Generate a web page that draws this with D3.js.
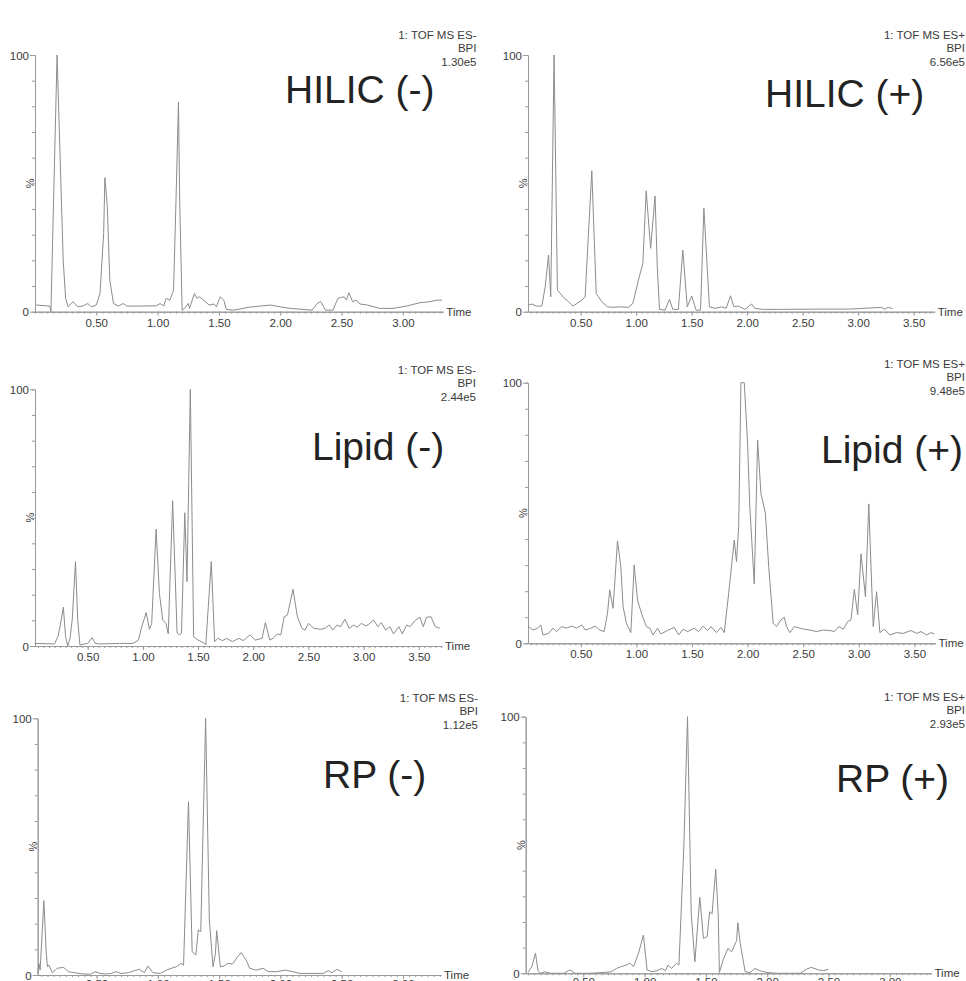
<!DOCTYPE html>
<html>
<head>
<meta charset="utf-8">
<script src="https://cdn.jsdelivr.net/npm/d3@7"></script>
<style>
html, body { margin: 0; padding: 0; background: #fff; }
svg { display: block; font-family: "Liberation Sans", Arial, sans-serif; }
</style>
</head>
<body>
<svg id="chart" width="966" height="981"></svg>
<script>

// retention time (min) and base peak intensity (%)

const hilicNegTime = [0.01, 0.12, 0.13, 0.18, 0.23, 0.25, 0.27, 0.31, 0.35, 0.39, 0.43, 0.46, 0.50, 0.53, 0.56, 0.57, 0.59, 0.61, 0.64, 0.68, 0.72, 0.75, 0.86, 0.99, 1.02, 1.05, 1.07, 1.10, 1.13, 1.15, 1.17, 1.18, 1.20, 1.22, 1.25, 1.26, 1.30, 1.32, 1.34, 1.39, 1.42, 1.46, 1.48, 1.51, 1.54, 1.56, 1.62, 1.74, 1.86, 1.92, 2.00, 2.08, 2.26, 2.30, 2.33, 2.37, 2.43, 2.47, 2.52, 2.54, 2.56, 2.59, 2.62, 2.65, 2.71, 2.81, 2.92, 3.03, 3.14, 3.22, 3.28, 3.32];
const hilicNegValue = [2.6, 2.2, 0, 100, 20, 5.2, 1.9, 3.9, 1.9, 2.2, 3.2, 1.9, 2.6, 7.1, 30.5, 52.2, 41, 12.3, 3.2, 2.2, 3.2, 2.2, 2.2, 2.3, 3.2, 2.2, 5.2, 4.5, 8.4, 43.5, 81.6, 43.5, 0.6, 1.3, 3.2, 1.3, 7.1, 5.2, 5.8, 3.9, 2.6, 3.0, 1.9, 5.8, 4.5, 0.9, 0.6, 1.7, 2.3, 2.6, 1.9, 1.3, 0.6, 3.2, 3.9, 0.6, 0.6, 5.2, 5.8, 4.5, 7.4, 3.9, 4.5, 3.0, 2.6, 1.3, 1.3, 2.2, 3.5, 3.9, 4.5, 4.5];

const hilicPosTime = [0.03, 0.06, 0.10, 0.15, 0.18, 0.21, 0.23, 0.26, 0.29, 0.32, 0.34, 0.39, 0.43, 0.46, 0.51, 0.54, 0.57, 0.60, 0.62, 0.64, 0.69, 0.74, 0.79, 0.85, 0.93, 0.97, 1.02, 1.06, 1.09, 1.13, 1.17, 1.19, 1.21, 1.26, 1.30, 1.33, 1.38, 1.42, 1.46, 1.50, 1.54, 1.58, 1.61, 1.66, 1.71, 1.77, 1.81, 1.85, 1.88, 1.92, 1.98, 2.04, 2.07, 2.14, 2.32, 2.62, 2.92, 3.21, 3.24, 3.27, 3.31];
const hilicPosValue = [2.6, 3.0, 2.2, 2.2, 9.7, 22.1, 5.8, 100, 8.4, 6.9, 5.8, 3.9, 2.2, 3.0, 4.5, 5.8, 30.5, 54.9, 30.5, 7.1, 3.9, 1.9, 1.7, 1.9, 1.7, 3.2, 12.3, 18.8, 47.1, 24.7, 45.1, 17.5, 0.9, 0.6, 4.8, 0.9, 0.9, 24, 1.9, 6.1, 0.6, 0.6, 40.3, 1.9, 1.3, 1.9, 1.3, 6.2, 1.9, 2.2, 0.9, 3.0, 1.3, 0.9, 0.9, 1.0, 1.0, 1.7, 1.0, 1.7, 1.2];

const lipidNegTime = [0.02, 0.20, 0.23, 0.25, 0.28, 0.30, 0.32, 0.34, 0.36, 0.39, 0.41, 0.43, 0.50, 0.54, 0.57, 0.61, 0.79, 0.91, 0.96, 0.99, 1.03, 1.06, 1.08, 1.12, 1.15, 1.18, 1.21, 1.23, 1.27, 1.31, 1.33, 1.35, 1.38, 1.40, 1.43, 1.46, 1.50, 1.55, 1.57, 1.62, 1.65, 1.68, 1.72, 1.76, 1.81, 1.87, 1.91, 1.97, 2.02, 2.08, 2.11, 2.15, 2.18, 2.22, 2.25, 2.28, 2.31, 2.36, 2.40, 2.44, 2.47, 2.50, 2.55, 2.61, 2.65, 2.69, 2.72, 2.76, 2.79, 2.83, 2.87, 2.91, 2.94, 2.98, 3.02, 3.05, 3.09, 3.13, 3.16, 3.20, 3.24, 3.27, 3.32, 3.35, 3.39, 3.42, 3.47, 3.51, 3.54, 3.57, 3.61, 3.65, 3.69];
const lipidNegValue = [1.0, 0.8, 3.6, 7.5, 15.1, 3.6, 0, 3.0, 10.1, 32.9, 10.1, 0.4, 1.0, 3.2, 1.0, 0.8, 1.0, 1.0, 2.3, 7.5, 13, 6.5, 8.8, 45.5, 20.5, 10.1, 8.8, 4.7, 56.6, 5.2, 4.3, 4.9, 51.9, 25.1, 100, 3.6, 2.3, 1.3, 0.4, 32.9, 1.7, 3.0, 2.1, 3.0, 1.7, 3.0, 2.1, 4.3, 2.3, 3.0, 9.1, 2.3, 3.0, 4.7, 4.3, 11.4, 12.1, 22.1, 11.4, 6.9, 6.2, 8.8, 6.9, 6.5, 6.9, 8.2, 6.2, 8.2, 7.5, 10.4, 6.9, 8.2, 7.3, 8.8, 7.8, 8.6, 10.1, 7.5, 9.1, 6.2, 7.5, 4.7, 7.5, 4.7, 8.2, 7.5, 10.1, 11.2, 7.5, 11.2, 11.4, 7.5, 6.9];

const lipidPosTime = [0.03, 0.07, 0.11, 0.14, 0.16, 0.21, 0.25, 0.28, 0.33, 0.37, 0.42, 0.46, 0.51, 0.54, 0.59, 0.63, 0.67, 0.71, 0.74, 0.76, 0.79, 0.83, 0.86, 0.88, 0.91, 0.95, 0.98, 1.01, 1.05, 1.09, 1.12, 1.15, 1.19, 1.22, 1.28, 1.34, 1.38, 1.42, 1.46, 1.52, 1.56, 1.60, 1.64, 1.67, 1.72, 1.76, 1.79, 1.83, 1.88, 1.90, 1.92, 1.94, 1.97, 2.00, 2.02, 2.06, 2.09, 2.12, 2.16, 2.19, 2.23, 2.26, 2.30, 2.33, 2.35, 2.38, 2.42, 2.47, 2.51, 2.56, 2.62, 2.68, 2.74, 2.78, 2.82, 2.86, 2.90, 2.93, 2.96, 2.99, 3.02, 3.06, 3.09, 3.11, 3.13, 3.16, 3.19, 3.23, 3.28, 3.34, 3.40, 3.47, 3.52, 3.56, 3.61, 3.65, 3.68];
const lipidPosValue = [6.4, 5.1, 5.8, 7.0, 3.2, 3.8, 5.8, 4.5, 6.4, 5.8, 6.6, 5.8, 7.0, 5.1, 5.8, 6.6, 5.1, 4.5, 11.5, 20.5, 13.4, 39.3, 29.4, 14.1, 7.7, 4.1, 30.1, 16.6, 10.9, 6.4, 5.8, 3.2, 5.8, 3.6, 4.9, 6.1, 3.2, 5.4, 4.5, 5.8, 4.5, 6.6, 4.9, 6.4, 4.1, 6.1, 4.1, 19.2, 39.6, 31.3, 44.8, 100, 100, 76.7, 52.4, 22.8, 78, 57.5, 49.9, 29.4, 7.7, 6.4, 9.0, 10, 6.4, 4.1, 6.4, 5.8, 5.4, 5.1, 4.5, 5.1, 4.9, 4.5, 6.4, 5.4, 8.3, 9.0, 20.7, 10.9, 34.3, 17.9, 53.5, 29.4, 6.4, 19.8, 4.1, 5.4, 3.2, 4.1, 3.8, 4.9, 3.8, 4.5, 3.2, 4.1, 3.6];

const rpNegTime = [0.02, 0.03, 0.04, 0.07, 0.09, 0.10, 0.11, 0.14, 0.18, 0.23, 0.27, 0.32, 0.39, 0.45, 0.49, 0.53, 0.58, 0.62, 0.66, 0.70, 0.76, 0.81, 0.85, 0.89, 0.92, 0.96, 1.02, 1.07, 1.11, 1.15, 1.19, 1.21, 1.25, 1.28, 1.31, 1.33, 1.35, 1.39, 1.42, 1.45, 1.47, 1.48, 1.51, 1.54, 1.57, 1.61, 1.65, 1.68, 1.72, 1.75, 1.80, 1.86, 1.90, 1.97, 2.04, 2.10, 2.16, 2.27, 2.35, 2.39, 2.42, 2.46, 2.50];
const rpNegValue = [0.6, 4.5, 1.9, 29, 8.4, 3.2, 3.9, 0.9, 2.6, 3.0, 1.3, 0.9, 0.4, 0.3, 1.3, 0.6, 0.4, 0.6, 1.3, 0.6, 0.9, 1.7, 2.2, 0.9, 3.5, 0.9, 0.6, 1.9, 2.6, 3.2, 4.5, 3.9, 67.5, 9.1, 7.8, 17.5, 16.9, 100, 21.4, 3.2, 8.4, 17.3, 3.2, 3.5, 4.5, 4.3, 7.1, 8.7, 5.8, 2.6, 1.9, 2.6, 1.3, 1.3, 1.9, 1.3, 0.6, 0.6, 0.6, 1.7, 0.9, 2.2, 1.3];

const rpPosTime = [0.05, 0.08, 0.11, 0.13, 0.15, 0.19, 0.23, 0.34, 0.39, 0.43, 0.55, 0.66, 0.73, 0.77, 0.81, 0.85, 0.88, 0.91, 0.95, 0.99, 1.02, 1.06, 1.10, 1.14, 1.17, 1.19, 1.22, 1.26, 1.28, 1.32, 1.35, 1.38, 1.41, 1.45, 1.48, 1.51, 1.53, 1.55, 1.58, 1.60, 1.61, 1.64, 1.68, 1.71, 1.75, 1.76, 1.78, 1.82, 1.86, 1.90, 1.94, 2.00, 2.08, 2.27, 2.32, 2.36, 2.42, 2.46, 2.50];
const rpPosValue = [0.3, 2.6, 7.8, 1.0, 0, 0.6, 0, 0, 1.3, 0, 0, 0.3, 0.6, 1.9, 2.6, 3.2, 3.9, 2.6, 7.8, 14.9, 1.3, 0.6, 1.0, 1.9, 1.0, 3.2, 1.9, 3.9, 3.2, 49.4, 100, 23.4, 4.5, 29.6, 13.6, 14.3, 24, 23.1, 40.5, 23.4, 0.3, 5.2, 9.7, 8.4, 12.7, 19.7, 11.7, 0.6, 0.3, 1.9, 1.0, 0.3, 0, 0, 1.6, 2.3, 1.3, 1.0, 1.6];

const ticksShort = [0.5, 1, 1.5, 2, 2.5, 3];
const ticksLong = [0.5, 1, 1.5, 2, 2.5, 3, 3.5];

const functionNeg = '1: TOF MS ES-';
const functionPos = '1: TOF MS ES+';
const scaleHeights = ['1.30e5', '6.56e5', '2.44e5', '9.48e5', '1.12e5', '2.93e5'];
const titles = ['HILIC (-)', 'HILIC (+)', 'Lipid (-)', 'Lipid (+)', 'RP (-)', 'RP (+)'];

// layout of each chromatogram on the page
const panels = [
	{ time: hilicNegTime, value: hilicNegValue, fn: functionNeg, domain: [0, 3.33], left: 35, right: 443.3, top: 55, bottom: 311.7, ticks: ticksShort, labelDy: 15, titleX: 285, titleY: 103, headX: 476.5, headY: 39 },
	{ time: hilicPosTime, value: hilicPosValue, fn: functionPos, domain: [0.025, 3.69], left: 528, right: 934.7, top: 55, bottom: 311.7, ticks: ticksLong, labelDy: 15, titleX: 765, titleY: 107, headX: 965, headY: 39 },
	{ time: lipidNegTime, value: lipidNegValue, fn: functionNeg, domain: [0.023, 3.71], left: 35, right: 442, top: 389.3, bottom: 646, ticks: ticksLong, labelDy: 15, titleX: 312, titleY: 460, headX: 476, headY: 374 },
	{ time: lipidPosTime, value: lipidPosValue, fn: functionPos, domain: [0.025, 3.69], left: 528, right: 935.5, top: 382.7, bottom: 643.3, ticks: ticksLong, labelDy: 15, titleX: 821, titleY: 463, headX: 965, headY: 368 },
	{ time: rpNegTime, value: rpNegValue, fn: functionNeg, domain: [0.02, 3.31], left: 37.7, right: 441, top: 718.3, bottom: 975, ticks: ticksShort, labelDy: 13, titleX: 323, titleY: 788, headX: 478, headY: 702 },
	{ time: rpPosTime, value: rpPosValue, fn: functionPos, domain: [0.03, 3.34], left: 525.7, right: 931.5, top: 716.7, bottom: 973.3, ticks: ticksShort, labelDy: 13, titleX: 836, titleY: 792, headX: 965, headY: 701 }
];

const svg = d3.select('#chart');

const axisColor = '#9a9a9a';
const textColor = '#3a3a3a';

panels.forEach((p, i) => {

	const x = d3.scaleLinear()
		.domain(p.domain)
		.range([p.left, p.right]);

	const y = d3.scaleLinear()
		.domain([0, 100])
		.range([p.bottom, p.top]);

	const g = svg.append('g');

	// minor time ticks every 0.05 min
	const minor = d3.range(Math.ceil(p.domain[0] / 0.05), Math.floor(p.domain[1] / 0.05) + 1).map(k => k * 0.05);

	g.append('g')
		.attr('transform', `translate(0,${p.bottom})`)
		.call(d3.axisBottom(x).tickValues(minor).tickSize(2).tickSizeOuter(0).tickFormat(''));

	const xAxis = g.append('g')
		.attr('transform', `translate(0,${p.bottom})`)
		.call(d3.axisBottom(x).tickValues(p.ticks).tickSize(4).tickSizeOuter(0).tickFormat(d3.format('.2f')));

	xAxis.selectAll('text')
		.attr('y', p.labelDy)
		.attr('dy', null);

	// y axis, minor every 10 %
	g.append('g')
		.attr('transform', `translate(${p.left},0)`)
		.call(d3.axisLeft(y).tickValues(d3.range(0, 101, 10)).tickSize(3).tickSizeOuter(0).tickFormat(''));

	const yAxis = g.append('g')
		.attr('transform', `translate(${p.left},0)`)
		.call(d3.axisLeft(y).tickValues([0, 100]).tickSize(5).tickSizeOuter(0).tickPadding(1));

	yAxis.selectAll('text')
		.attr('dy', '0.35em');

	g.selectAll('.domain, .tick line')
		.attr('stroke', axisColor);

	g.selectAll('.tick text')
		.attr('fill', textColor)
		.attr('font-family', null)
		.attr('font-size', 11.5);

	g.append('text')
		.attr('transform', `translate(${p.left - 1},${y(50)}) rotate(-90)`)
		.attr('text-anchor', 'middle')
		.attr('font-size', 11)
		.attr('fill', textColor)
		.text('%');

	g.append('text')
		.attr('x', p.right + 3)
		.attr('y', p.bottom + 4)
		.attr('font-size', 11.5)
		.attr('fill', textColor)
		.text('Time');

	// trace
	const points = p.time.map((t, k) => [t, p.value[k]]);

	g.append('path')
		.datum(points)
		.attr('fill', 'none')
		.attr('stroke', '#8c8c8c')
		.attr('stroke-width', 1)
		.attr('stroke-linejoin', 'round')
		.attr('d', d3.line().x(d => x(d[0])).y(d => y(d[1])));

	// instrument header, right aligned
	g.append('g')
		.selectAll('text')
		.data([p.fn, 'BPI', scaleHeights[i]])
		.enter()
		.append('text')
		.attr('x', p.headX)
		.attr('y', (d, k) => p.headY + k * 13.3)
		.attr('text-anchor', 'end')
		.attr('font-size', 11.5)
		.attr('fill', textColor)
		.text(d => d);

	g.append('text')
		.attr('x', p.titleX)
		.attr('y', p.titleY)
		.attr('font-size', 39)
		.attr('fill', '#232323')
		.text(titles[i]);

});

</script>
</body>
</html>
